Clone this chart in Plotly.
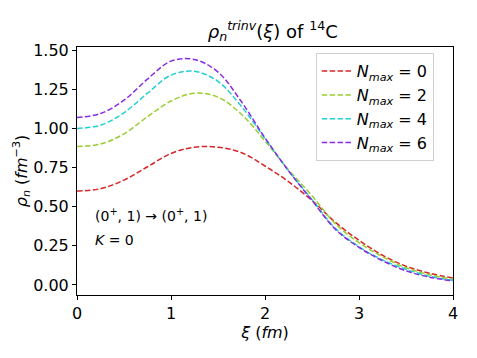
import plotly.graph_objects as go

xi = [0, 0.25, 0.5, 0.75, 1.0, 1.25, 1.5, 1.75, 2.0, 2.25, 2.5, 2.75, 3.0, 3.25, 3.5, 3.75, 4.0]

rho_n0 = [0.60, 0.615, 0.67, 0.755, 0.84, 0.88, 0.88, 0.845, 0.76, 0.66, 0.54, 0.40, 0.285, 0.19, 0.12, 0.075, 0.045]
rho_n2 = [0.885, 0.90, 0.965, 1.075, 1.175, 1.225, 1.20, 1.09, 0.92, 0.735, 0.57, 0.39, 0.27, 0.18, 0.11, 0.065, 0.037]
rho_n4 = [1.00, 1.02, 1.10, 1.225, 1.34, 1.365, 1.30, 1.14, 0.935, 0.73, 0.545, 0.36, 0.245, 0.16, 0.10, 0.055, 0.03]
rho_n6 = [1.07, 1.095, 1.18, 1.315, 1.43, 1.44, 1.36, 1.17, 0.94, 0.73, 0.54, 0.355, 0.24, 0.155, 0.09, 0.05, 0.026]

nmax = [0, 2, 4, 6]
colors = ["#d62728", "#9acd32", "#22cfd2", "#8a2be2"]

fig = go.Figure()
for n, ys, c in zip(nmax, [rho_n0, rho_n2, rho_n4, rho_n6], colors):
    fig.add_trace(go.Scatter(
        x=xi, y=ys, mode="lines", line_shape="spline",
        line=dict(color=c, width=1.5, dash="5.5px,2.4px"),
        name="<i>N</i><sub><i>max</i></sub> = %d" % n,
    ))

fig.add_annotation(x=0.17, y=0.45, xref="x", yref="y", showarrow=False, xanchor="left",
                   text="(0<sup>+</sup>, 1) → (0<sup>+</sup>, 1)", font=dict(size=14, color="black"))
fig.add_annotation(x=0.17, y=0.29, xref="x", yref="y", showarrow=False, xanchor="left",
                   text="<i>K</i> = 0", font=dict(size=14, color="black"))

axis_style = dict(showline=True, linecolor="black", linewidth=1, mirror=True,
                  ticks="outside", ticklen=4, tickcolor="black", showgrid=False,
                  zeroline=False, automargin=False, tickfont=dict(size=16, color="black"))

# page body has an 8px margin, so the figure is offset by 8px
fig.update_layout(
    width=477, height=358,
    margin=dict(l=69, r=32, t=39, b=71),
    plot_bgcolor="white", paper_bgcolor="white",
    font=dict(family="DejaVu Sans", color="black"),
    title=dict(text="<i>ρ</i><sub><i>n</i></sub><sup><i>trinv</i></sup>(<i>ξ</i>) of <sup>14</sup>C",
               x=0.555, xanchor="center", y=0.935, yanchor="middle", font=dict(size=18)),
    legend=dict(x=0.635, y=0.975, xanchor="left", yanchor="top", font=dict(size=16),
                bordercolor="#d0d0d0", borderwidth=1, bgcolor="rgba(255,255,255,0.8)",
                tracegroupgap=0),
    xaxis=dict(range=[0, 4], dtick=1, title=dict(text="<i>ξ</i> (<i>fm</i>)", font=dict(size=16), standoff=4), **axis_style),
    yaxis=dict(range=[-0.064, 1.52], dtick=0.25, tickformat=".2f",
               title=dict(text="<i>ρ</i><sub><i>n</i></sub> (<i>fm</i><sup>−3</sup>)", font=dict(size=16), standoff=1), **axis_style),
)

fig.write_html("out.html")
